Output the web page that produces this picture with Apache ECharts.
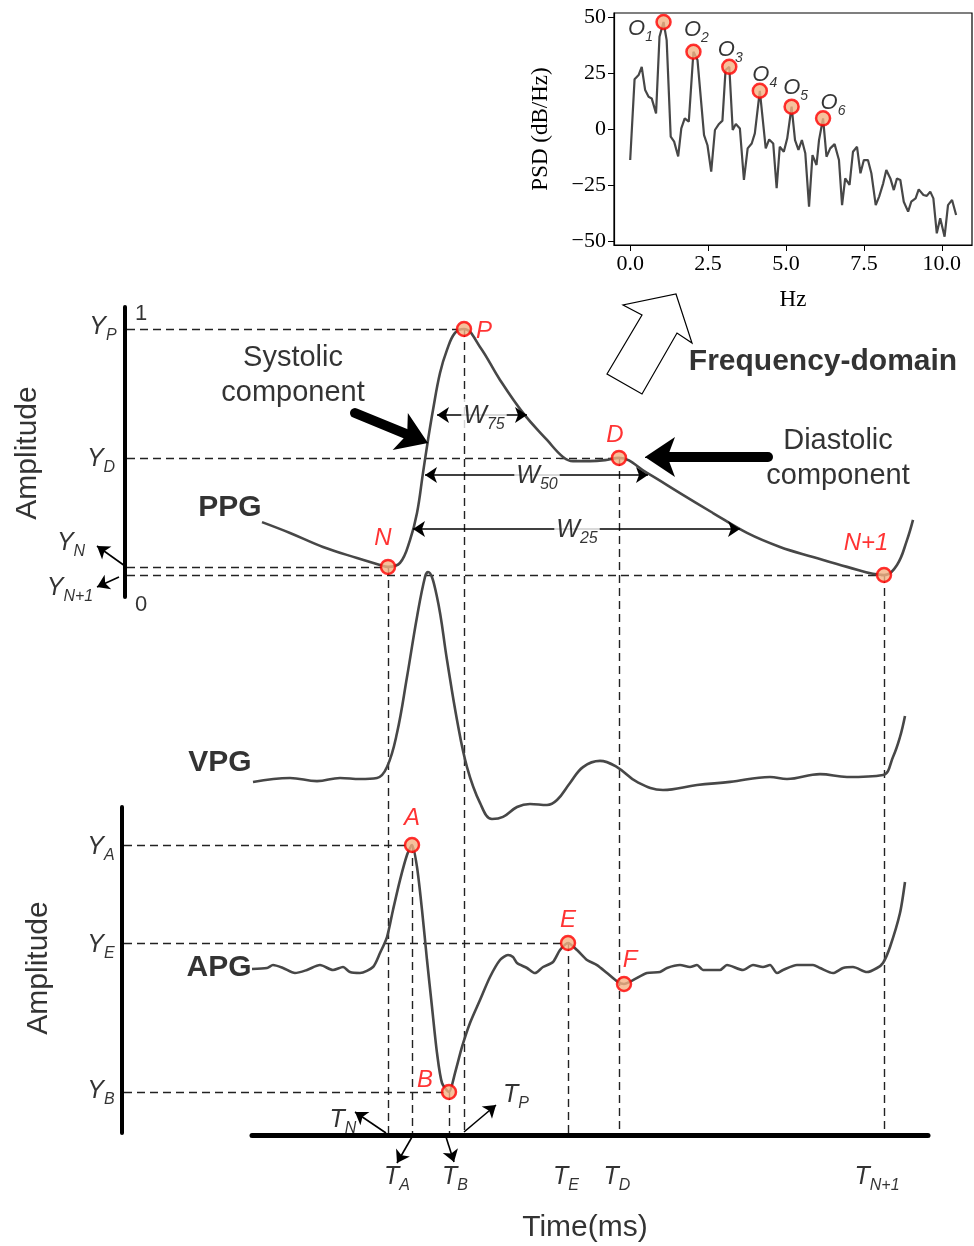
<!DOCTYPE html>
<html>
<head>
<meta charset="utf-8">
<script src="https://cdn.jsdelivr.net/npm/echarts@6/dist/echarts.min.js"></script>
<style>
html, body { margin: 0; padding: 0; background: #fff; }
#chart { width: 974px; height: 1246px; }
</style>
</head>
<body>
<div id="chart"></div>
<script>
// ---- PSD inset (frequency domain) ----
const psdHz = [0, 0.14, 0.27, 0.37, 0.48, 0.59, 0.69, 0.83, 0.94, 1.07, 1.17, 1.30, 1.41, 1.54, 1.64, 1.75, 1.88, 2.03, 2.16, 2.30, 2.37, 2.48, 2.60, 2.72, 2.85, 2.96, 3.06, 3.18, 3.29, 3.39, 3.52, 3.65, 3.77, 3.90, 4.00, 4.16, 4.35, 4.46, 4.59, 4.70, 4.80, 4.93, 5.04, 5.18, 5.29, 5.40, 5.51, 5.62, 5.74, 5.85, 5.98, 6.06, 6.19, 6.30, 6.42, 6.56, 6.70, 6.80, 6.90, 7.04, 7.15, 7.28, 7.39, 7.50, 7.63, 7.74, 7.88, 7.99, 8.12, 8.22, 8.35, 8.46, 8.56, 8.67, 8.78, 8.92, 9.02, 9.16, 9.26, 9.41, 9.52, 9.63, 9.73, 9.84, 9.95, 10.09, 10.20, 10.33, 10.46];
const psdDb = [-13.6, 22.4, 24.3, 28, 17.6, 14.6, 13.9, 7.2, 41.4, 48, 39.9, -3.2, -5.4, -12, 0.5, 5, 3.5, 34.7, 31, 8.7, -2.5, -7, -18.8, -0.2, 2.5, 4, 26.5, 28, -0.2, 2.5, 0.5, -22.5, -8.4, -6.2, -1.7, 17.3, -8.4, -4.4, -6.2, -26.2, -7.7, -9.9, -3.9, 10.2, -4.7, -9.1, -4.7, -10.6, -34.4, -11.4, -15.8, -4.7, 5, -12.1, -8.4, -6.5, -13.6, -33.7, -21.8, -24.7, -9.9, -7.7, -19.5, -13.6, -13.6, -19.5, -33.7, -29.9, -24, -18, -21.8, -27, -21.8, -22.5, -32.2, -36.6, -32.2, -30.7, -26.7, -29.2, -29.6, -27.7, -30.7, -46.3, -39.6, -47.8, -33.7, -31.4, -38.1];
const peakIdx = [9, 17, 27, 35, 43, 52];          // O1..O6
const hzTicks = [0, 2.5, 5, 7.5, 10];
const dbTicks = [-50, -25, 0, 25, 50];

// ---- time domain waveforms (time in samples, amplitude normalised) ----
const ppgT = [12, 40, 73, 107, 130, 138, 150, 160, 167, 173, 178, 183, 190, 197, 205, 214, 230, 250, 273, 297, 313, 323, 340, 355, 369, 397, 430, 463, 497, 530, 563, 597, 634, 647, 657, 663];
const ppgAmp = [0.215, 0.171, 0.114, 0.069, 0.041, 0.033, 0.049, 0.142, 0.252, 0.415, 0.549, 0.671, 0.821, 0.915, 0.984, 1.0, 0.927, 0.793, 0.659, 0.549, 0.48, 0.463, 0.463, 0.467, 0.476, 0.415, 0.333, 0.252, 0.171, 0.114, 0.073, 0.033, 0, 0.041, 0.142, 0.224];

const vpgT = [3, 40, 67, 90, 110, 127, 137, 147, 157, 167, 175, 178, 187, 197, 207, 217, 230, 242, 253, 267, 280, 297, 307, 320, 333, 350, 367, 387, 413, 447, 480, 520, 537, 570, 597, 633, 643, 650, 655];
const vpgAmp = [-0.019, 0, -0.015, 0, -0.005, 0, 0.053, 0.218, 0.49, 0.782, 0.976, 1.0, 0.879, 0.573, 0.282, 0.053, -0.121, -0.199, -0.189, -0.141, -0.126, -0.131, -0.107, -0.024, 0.053, 0.083, 0.053, -0.019, -0.058, -0.034, -0.019, 0.005, -0.005, 0.019, 0.005, 0.015, 0.102, 0.199, 0.301];

const apgT = [2, 17, 23, 33, 45, 57, 70, 83, 93, 100, 110, 123, 130, 137, 143, 150, 157, 162, 167, 172, 177, 182, 187, 192, 199, 205, 212, 220, 230, 240, 250, 258, 263, 267, 277, 285, 293, 303, 310, 318, 327, 337, 347, 357, 368, 374, 383, 397, 410, 417, 430, 440, 447, 453, 470, 477, 493, 503, 513, 520, 527, 533, 547, 563, 570, 583, 593, 603, 617, 627, 633, 640, 650, 655];
const apgAmp = [-0.008, 0, 0.024, 0, -0.041, -0.016, 0.024, -0.016, 0.008, -0.033, -0.041, 0.008, 0.122, 0.252, 0.472, 0.715, 0.919, 1.0, 0.821, 0.472, 0.065, -0.317, -0.691, -0.935, -1.008, -0.854, -0.642, -0.447, -0.26, -0.073, 0.065, 0.106, 0.089, 0.041, 0, -0.041, 0.008, 0.049, 0.146, 0.203, 0.146, 0.065, 0.024, -0.041, -0.114, -0.13, -0.098, -0.041, -0.033, 0, 0.024, 0.008, 0.024, -0.016, -0.016, 0.024, -0.016, 0.024, 0.008, 0.024, -0.041, -0.016, 0.024, 0.024, 0, -0.041, 0, 0.008, -0.033, 0, 0.041, 0.171, 0.447, 0.699];

// fiducial points (name, time)
const ppgMarkNames = ['N', 'P', 'D', 'N+1'];
const ppgMarkT = [138, 214, 369, 634];
const apgMarkNames = ['A', 'B', 'E', 'F'];
const apgMarkT = [162, 199, 318, 374];

// ---- layout ----
const X0 = 250, Y0 = 1135;          // pixel of time origin and time axis
const at = (px, py) => [px - X0, Y0 - py];
const PPG = {base: 560, scale: 246};
const VPG = {base: 357, scale: 206};
const APG = {base: 167, scale: 123};
const SANS = 'Liberation Sans, Arial, sans-serif';
const SERIF = 'Liberation Serif, Times New Roman, serif';
const CURVE = '#474747';

const curve = (t, a, L) => t.map((v, i) => [v, L.base + a[i] * L.scale]);
const markPos = (t, a, L, mt) => [mt, L.base + a[t.indexOf(mt)] * L.scale];

const ppgPts = ppgMarkT.map(m => markPos(ppgT, ppgAmp, PPG, m));
const apgPts = apgMarkT.map(m => markPos(apgT, apgAmp, APG, m));

const ppgBarX = at(125, 0)[0], apgBarX = at(122, 0)[0];

// dashed guide lines
const dashes = [];
ppgPts.forEach(p => {
  dashes.push([[ppgBarX + 2, p[1]], p]);
  dashes.push([p, [p[0], 0]]);
});
apgPts.slice(0, 3).forEach(p => {
  dashes.push([[apgBarX + 2, p[1]], p]);
  dashes.push([p, [p[0], 0]]);
});

const richBig = {
  i: {fontFamily: SANS, fontStyle: 'italic', fontSize: 25, color: '#000', verticalAlign: 'middle'},
  s: {fontFamily: SANS, fontStyle: 'italic', fontSize: 16, color: '#000', verticalAlign: 'middle', padding: [18, 0, 0, 0]}
};
const richO = {
  i: {fontFamily: SANS, fontStyle: 'italic', fontSize: 22, color: '#000', verticalAlign: 'middle'},
  s: {fontFamily: SANS, fontStyle: 'italic', fontSize: 14, color: '#000', verticalAlign: 'middle', padding: [16, 0, 0, 0]}
};
const sub = (a, b) => '{i|' + a + '}{s|' + b + '}';

function note(px, py, text, extra) {
  return {value: at(px, py), label: Object.assign({formatter: text, rich: richBig}, extra || {})};
}
const plain = {fontFamily: SANS, fontSize: 29, color: '#000', lineHeight: 35, align: 'center'};
const bold = {fontFamily: SANS, fontSize: 30, fontWeight: 'bold', color: '#000'};
const whiteBg = {backgroundColor: '#fff', padding: [0, 2, 0, 2]};
const upright = size => ({fontFamily: SANS, fontSize: size, color: '#000'});

const notes = [
  note(293, 375, 'Systolic\ncomponent', plain),
  note(838, 458, 'Diastolic\ncomponent', plain),
  note(823, 362, 'Frequency-domain', bold),
  note(230, 508, 'PPG', bold),
  note(220, 763, 'VPG', bold),
  note(219, 968, 'APG', bold),
  note(28, 453, 'Amplitude', Object.assign(upright(30), {rotate: 90})),
  note(39, 968, 'Amplitude', Object.assign(upright(30), {rotate: 90})),
  note(141, 314, '1', upright(22)),
  note(141, 605, '0', upright(22)),
  note(585, 1228, 'Time(ms)', upright(30)),
  note(103, 327, sub('Y', 'P')),
  note(101, 459, sub('Y', 'D')),
  note(71, 543, sub('Y', 'N')),
  note(70, 588, sub('Y', 'N+1')),
  note(101, 847, sub('Y', 'A')),
  note(101, 945, sub('Y', 'E')),
  note(101, 1091, sub('Y', 'B')),
  note(343, 1120, sub('T', 'N')),
  note(397, 1177, sub('T', 'A')),
  note(455, 1177, sub('T', 'B')),
  note(566, 1177, sub('T', 'E')),
  note(617, 1177, sub('T', 'D')),
  note(877, 1177, sub('T', 'N+1')),
  note(516, 1095, sub('T', 'P')),
  note(484, 416, sub('W', '75'), whiteBg),
  note(537, 476, sub('W', '50'), whiteBg),
  note(577, 530, sub('W', '25'), whiteBg)
];

// solid axes bars
const bars = [
  {coords: [at(125, 307), at(125, 597)], lineStyle: {width: 4}},
  {coords: [at(122, 807), at(122, 1133)], lineStyle: {width: 4}},
  {coords: [at(252, 1135), at(928, 1135)], lineStyle: {width: 5}}
];
const smallArrows = [
  [at(125, 566), at(97, 546)],
  [at(119, 577), at(97, 587)],
  [at(386, 1133), at(355, 1112)],
  [at(412, 1137), at(397, 1163)],
  [at(446, 1137), at(454, 1162)],
  [at(464, 1132), at(496, 1105)]
];
const widthArrows = [
  [at(437, 415), at(527, 415)],
  [at(425, 475), at(648, 475)],
  [at(413, 529), at(740, 529)]
];
const bigArrows = [
  [at(355, 413), at(428, 443)],
  [at(768, 457), at(645, 457)]
];
// point d units back from the tip of an arrow
function back(a, d) {
  const dx = a[1][0] - a[0][0], dy = a[1][1] - a[0][1], n = Math.hypot(dx, dy);
  return [a[1][0] - dx / n * d, a[1][1] - dy / n * d];
}

const ppgLabelOff = [[-5, -29], [20, 2], [-4, -23], [-18, -32]];
const apgLabelOff = [[0, -27], [-24, -12], [0, -23], [6, -24]];
const peakLabelOff = [[-23, 7], [3, -22], [1, -17], [5, -16], [4, -19], [10, -15]];

const markerStyle = {color: '#f4b183', borderColor: '#ff0000', borderWidth: 2.5};
const redLabel = {fontFamily: SANS, fontStyle: 'italic', fontSize: 24, color: '#ff0000'};

const chart = echarts.init(document.getElementById('chart'));
chart.setOption({
  animation: false,
  backgroundColor: '#fff',
  grid: [
    {left: 0, top: 0, width: 974, height: 1246},
    {left: 614, top: 13, width: 358, height: 232, show: true, borderColor: '#000', borderWidth: 1.2}
  ],
  xAxis: [
    {gridIndex: 0, type: 'value', min: -250, max: 724, show: false},
    {
      gridIndex: 1, type: 'value', min: -0.52, max: 10.97,
      name: 'Hz', nameLocation: 'middle', nameGap: 43,
      nameTextStyle: {fontFamily: SERIF, fontSize: 23, color: '#000'},
      axisLine: {show: true, onZero: false, lineStyle: {color: '#000', width: 1.2}},
      axisTick: {show: true, customValues: hzTicks, length: 6, lineStyle: {color: '#000'}},
      axisLabel: {customValues: hzTicks, formatter: v => v.toFixed(1), fontFamily: SERIF, fontSize: 22, color: '#000', margin: 8},
      splitLine: {show: false}
    }
  ],
  yAxis: [
    {gridIndex: 0, type: 'value', min: -111, max: 1135, show: false},
    {
      gridIndex: 1, type: 'value', min: -51.5, max: 52,
      name: 'PSD (dB/Hz)', nameLocation: 'middle', nameGap: 62, nameRotate: 90,
      nameTextStyle: {fontFamily: SERIF, fontSize: 23, color: '#000'},
      axisLine: {show: true, onZero: false, lineStyle: {color: '#000', width: 1.2}},
      axisTick: {show: true, customValues: dbTicks, length: 6, lineStyle: {color: '#000'}},
      axisLabel: {customValues: dbTicks, formatter: v => v < 0 ? '\u2212' + Math.abs(v) : String(v), fontFamily: SERIF, fontSize: 22, color: '#000', margin: 8},
      splitLine: {show: false}
    }
  ],
  graphic: [{
    type: 'polygon',
    shape: {points: [[676, 294], [692, 343], [677, 333], [642, 394], [607, 374], [642, 315], [623, 305]]},
    style: {fill: '#fff', stroke: '#000', lineWidth: 1.2},
    z: 10
  }],
  series: [
    {
      type: 'line', xAxisIndex: 1, yAxisIndex: 1, data: psdHz.map((h, i) => [h, psdDb[i]]),
      showSymbol: false, lineStyle: {color: CURVE, width: 2.2}, z: 2
    },
    {
      type: 'scatter', xAxisIndex: 1, yAxisIndex: 1, symbolSize: 14, itemStyle: markerStyle, z: 5,
      data: peakIdx.map((k, j) => ({
        value: [psdHz[k], psdDb[k]],
        label: {show: true, position: 'inside', offset: peakLabelOff[j], formatter: sub('O', j + 1), rich: richO}
      }))
    },
    {type: 'lines', coordinateSystem: 'cartesian2d', polyline: false, z: 1,
      lineStyle: {color: '#222', width: 1.4, type: [8, 5], opacity: 1},
      data: dashes.map(c => ({coords: c}))},
    {type: 'line', data: curve(ppgT, ppgAmp, PPG), smooth: 0.4, showSymbol: false, lineStyle: {color: CURVE, width: 2.6}, z: 3},
    {type: 'line', data: curve(vpgT, vpgAmp, VPG), smooth: 0.4, showSymbol: false, lineStyle: {color: CURVE, width: 2.6}, z: 3},
    {type: 'line', data: curve(apgT, apgAmp, APG), smooth: 0.25, showSymbol: false, lineStyle: {color: CURVE, width: 2.6}, z: 3},
    {type: 'lines', coordinateSystem: 'cartesian2d', z: 2,
      lineStyle: {color: '#000', opacity: 1, cap: 'round'}, data: bars},
    {type: 'lines', coordinateSystem: 'cartesian2d', z: 4, symbol: ['none', 'arrow'], symbolSize: 12,
      lineStyle: {color: '#000', width: 1.6, opacity: 1}, data: smallArrows.map(c => ({coords: c}))},
    {type: 'lines', coordinateSystem: 'cartesian2d', z: 4, symbol: ['arrow', 'arrow'], symbolSize: 12,
      lineStyle: {color: '#000', width: 1.6, opacity: 1}, data: widthArrows.map(c => ({coords: c}))},
    // thick arrow shafts and heads
    {type: 'lines', coordinateSystem: 'cartesian2d', z: 4,
      lineStyle: {color: '#000', width: 10, opacity: 1, cap: 'round'},
      data: bigArrows.map(a => ({coords: [a[0], back(a, 16)]}))},
    {type: 'lines', coordinateSystem: 'cartesian2d', z: 4, symbol: ['none', 'arrow'], symbolSize: 30,
      lineStyle: {color: '#000', width: 1, opacity: 1},
      data: bigArrows.map(a => ({coords: [back(a, 22), a[1]]}))},
    {
      type: 'scatter', symbolSize: 14, itemStyle: markerStyle, z: 6,
      data: ppgPts.map((p, j) => ({value: p, label: {show: true, position: 'inside', offset: ppgLabelOff[j], formatter: ppgMarkNames[j], ...redLabel}}))
        .concat(apgPts.map((p, j) => ({value: p, label: {show: true, position: 'inside', offset: apgLabelOff[j], formatter: apgMarkNames[j], ...redLabel}})))
    },
    {
      type: 'scatter', symbolSize: 1, itemStyle: {color: 'rgba(0,0,0,0)'}, z: 7, silent: true,
      label: {show: true, position: 'inside'},
      data: notes
    }
  ]
});
</script>
</body>
</html>
